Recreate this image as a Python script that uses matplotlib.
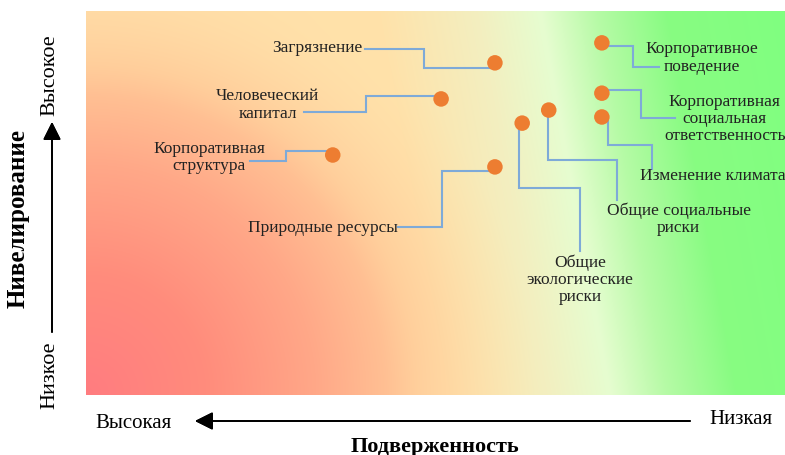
"""Карта ESG-рисков: подверженность против нивелирования."""

import numpy as np
import matplotlib
matplotlib.use("Agg")
import matplotlib.pyplot as plt
from matplotlib.colors import to_rgb

# риски и их положение на карте (шкала 0..10 по обеим осям)
risks = [
    "Загрязнение",
    "Человеческий\nкапитал",
    "Корпоративная\nструктура",
    "Природные ресурсы",
    "Общие\nэкологические\nриски",
    "Общие социальные\nриски",
    "Корпоративное\nповедение",
    "Корпоративная\nсоциальная\nответственность",
    "Изменение климата",
]
exposure = [5.85, 5.08, 3.53, 5.85, 6.24, 6.62, 7.38, 7.38, 7.38]
leveling = [8.65, 7.71, 6.25, 5.94, 7.08, 7.42, 9.17, 7.86, 7.24]

# подписи и выноски
label_x = [3.96, 2.60, 1.76, 3.39, 7.07, 8.48, 8.81, 9.14, 8.97]
label_y = [9.06, 7.58, 6.22, 4.38, 3.02, 4.61, 8.80, 7.21, 5.73]
label_ha = ["right", "center", "center", "center", "center", "center", "center", "center", "center"]
leaders = [
    [(3.99, 9.01), (4.84, 9.01), (4.84, 8.52), (5.85, 8.52)],
    [(3.12, 7.37), (4.01, 7.37), (4.01, 7.79), (5.08, 7.79)],
    [(2.35, 6.09), (2.86, 6.09), (2.86, 6.35), (3.53, 6.35)],
    [(4.46, 4.38), (5.09, 4.38), (5.09, 5.83), (5.85, 5.83)],
    [(6.19, 7.08), (6.19, 5.39), (7.07, 5.39), (7.07, 3.75)],
    [(6.61, 7.42), (6.61, 6.12), (7.60, 6.12), (7.60, 5.08)],
    [(7.38, 9.09), (7.83, 9.09), (7.83, 8.54), (8.20, 8.54)],
    [(7.38, 7.94), (7.94, 7.94), (7.94, 7.21), (8.43, 7.21)],
    [(7.47, 7.24), (7.47, 6.51), (8.10, 6.51), (8.10, 5.89)],
]

# фон: красное пятно в левом нижнем углу поверх наклонного градиента к зелёному
red_stops = [0, 120, 230, 330, 430]
red_colors = ["#ff7c80", "#ff8c7c", "#ffa888", "#ffca98", "#ffdea8"]
base_stops = [-0.1, 0.42, 0.56, 0.65, 0.73, 0.83, 1.0]
base_colors = ["#ffdea8", "#ffe2aa", "#f3efc0", "#e6fdd0", "#b6faa6", "#88fc82", "#80ff80"]

DOT = "#ed7d31"
LEADER = "#7eaad8"
TEXT = "#222222"


def ramp(t, stops, colors):
    rgb = np.array([to_rgb(c) for c in colors])
    return np.stack([np.interp(t, stops, rgb[:, k]) for k in range(3)], axis=-1)


def background(width=699, height=384):
    xx, yy = np.meshgrid(np.arange(width), np.arange(height)[::-1])
    u, v = xx / width, yy / height
    red = ramp(np.hypot(xx, yy), red_stops, red_colors)
    base = ramp(u - 0.1 * (1 - v), base_stops, base_colors)
    w = np.clip((np.hypot(xx, yy) - 300) / 150, 0, 1)[..., None]
    return red * (1 - w) + base * w


def main() -> None:
    plt.rcParams["font.family"] = ["Liberation Serif", "DejaVu Serif"]
    fig = plt.figure(figsize=(7.85, 4.56), dpi=100)
    ax = fig.add_axes([86 / 785, 60 / 456, 699 / 785, 384 / 456])

    ax.imshow(background(), extent=[0, 10, 0, 10], aspect="auto", zorder=0)
    for path in leaders:
        xs, ys = zip(*path)
        ax.plot(xs, ys, color=LEADER, lw=1.5, zorder=2, solid_joinstyle="miter")
    ax.scatter(exposure, leveling, s=125, color=DOT, edgecolors="none", zorder=3)
    for name, x, y, ha in zip(risks, label_x, label_y, label_ha):
        ax.text(x, y, name, ha=ha, va="center", multialignment="center",
                fontsize=12.5, color=TEXT, linespacing=1.1, zorder=4)

    ax.set_xlim(0, 10)
    ax.set_ylim(0, 10)
    ax.axis("off")

    # оси-стрелки за пределами области графика
    head = dict(arrowstyle="-|>,head_length=0.9,head_width=0.45", color="black",
                lw=1.3, mutation_scale=12, shrinkA=0, shrinkB=0)
    fig.add_artist(plt.annotate("", xy=(52 / 785, 333 / 456), xytext=(52 / 785, 123 / 456),
                                xycoords="figure fraction", arrowprops=head))
    fig.add_artist(plt.annotate("", xy=(195 / 785, 34 / 456), xytext=(690 / 785, 34 / 456),
                                xycoords="figure fraction", arrowprops=head))

    fig.text(50 / 785, 381 / 456, "Высокое", rotation=90, ha="center", va="center", fontsize=16)
    fig.text(50 / 785, 81 / 456, "Низкое", rotation=90, ha="center", va="center", fontsize=16)
    fig.text(18 / 785, 237 / 456, "Нивелирование", rotation=90, ha="center", va="center",
             fontsize=18, fontweight="bold")
    fig.text(134 / 785, 32 / 456, "Высокая", ha="center", va="center", fontsize=15)
    fig.text(741 / 785, 36 / 456, "Низкая", ha="center", va="center", fontsize=15)
    fig.text(435 / 785, 9 / 456, "Подверженность", ha="center", va="center",
             fontsize=16, fontweight="bold")

    fig.savefig("out.png", dpi=100)


if __name__ == "__main__":
    main()
